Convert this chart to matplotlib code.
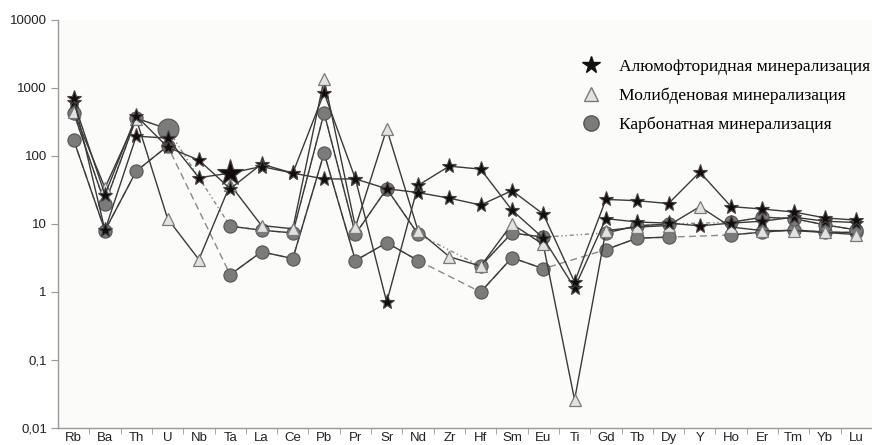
import numpy as np
import matplotlib.pyplot as plt
from matplotlib.lines import Line2D

elements = ['Rb', 'Ba', 'Th', 'U', 'Nb', 'Ta', 'La', 'Ce', 'Pb', 'Pr', 'Sr', 'Nd', 'Zr',
            'Hf', 'Sm', 'Eu', 'Ti', 'Gd', 'Tb', 'Dy', 'Y', 'Ho', 'Er', 'Tm', 'Yb', 'Lu']
nan = np.nan

# alumofluoride mineralization (stars)
star_1 = [710, 8.1, 196, 183, 48, 56, 70, 56, 46, 46, 33, 29, 24,
          19, 31, 14, 1.4, 23, 22, 20, 58, 18, 16.6, 15, 12.3, 11.4]
star_2 = [630, 27, 390, 135, 87, 33, 76, 56, 850, 46, 0.71, 37, 71,
          64, 16, 6.2, 1.15, 12, 10.7, 10.3, 9.4, 10.3, 11, 12.6, 11, 10.5]
# molybdenum mineralization (triangles)
tri_1 = [450, 34, 350, 12, 3.0, 38, 9.5, 8.5, 1350, 9, 250, 8, 3.3,
         2.4, 10, 5.0, 0.026, 8, 9, 9.5, 18, 9, 8, 8, 7.5, 7]
# carbonate mineralization (circles), nan = not analysed
circ_1 = [430, 20, 360, 250, nan, 9.3, 8.1, 7.4, 430, 7.1, 33, 7.1, nan,
          2.4, 7.4, 6.4, nan, 7.4, 9.4, 10, nan, 10.6, 12.6, 12, 9.7, 8.2]
circ_2 = [172, 8, 60, 140, nan, 1.8, 3.9, 3.1, 110, 2.9, 5.3, 2.9, nan,
          1.0, 3.2, 2.2, nan, 4.2, 6.2, 6.4, nan, 6.9, 7.6, 8.2, 7.6, 7.5]

y_ticks = [0.01, 0.1, 1, 10, 100, 1000, 10000]
y_labels = ['0,01', '0,1', '1', '10', '100', '1000', '10000']
legend_labels = ['Алюмофторидная минерализация', 'Молибденовая минерализация',
                 'Карбонатная минерализация']

line_col = '#3a3a3a'
star_kw = dict(marker='*', markersize=11, markerfacecolor='#150d0d', markeredgecolor='#444444',
               markeredgewidth=0.8)
tri_kw = dict(marker='^', markersize=9, markerfacecolor='#e2e2e2', markeredgecolor='#7a7a7a',
              markeredgewidth=0.9)
circ_kw = dict(marker='o', markersize=9.5, markerfacecolor='#7b7b7b', markeredgecolor='#555555',
               markeredgewidth=0.8)

fig = plt.figure(figsize=(8.72, 4.45), dpi=100)
ax = fig.add_axes([58 / 872, 17 / 445, 1 - 58 / 872, 408 / 445])
ax.set_facecolor('#fbfbfa')
x = np.arange(len(elements))


def draw(vals, kw, z, bridge=None):
    v = np.array(vals, dtype=float)
    ok = ~np.isnan(v)
    if bridge is not None:
        ax.plot(x[ok], v[ok], color='#8a8a8a', lw=1, ls=bridge, zorder=z - 0.5)
    ax.plot(x, v, color=line_col, lw=1, zorder=z, **kw)


draw(circ_2, circ_kw, 2, bridge=(0, (5, 3)))
draw(circ_1, circ_kw, 3, bridge=(0, (3, 2, 1, 2, 1, 2)))
draw(tri_1, tri_kw, 4)
draw(star_2, star_kw, 5)
draw(star_1, star_kw, 6)

# enlarged points
ax.plot(x[3], circ_1[3], zorder=3.2, **{**circ_kw, 'markersize': 15})
ax.plot(x[5], star_1[5], zorder=6.2, **{**star_kw, 'markersize': 20})

ax.set_yscale('log')
ax.set_ylim(0.01, 10000)
ax.set_xlim(-0.5, len(elements) - 0.5)
ax.set_yticks(y_ticks)
ax.set_yticklabels(y_labels)
ax.minorticks_off()
ax.set_xticks(x)
ax.set_xticklabels(elements)
ax.set_xticks(x[:-1] + 0.5, minor=True)
ax.tick_params(axis='x', which='major', length=0, pad=3)
ax.tick_params(axis='x', which='minor', length=4, color='#999999', direction='out')
ax.tick_params(axis='y', which='major', length=5, color='#999999', direction='out', pad=3)
for lab in ax.get_xticklabels() + ax.get_yticklabels():
    lab.set_fontfamily('Liberation Sans')
    lab.set_fontsize(9.5)
    lab.set_color('#222222')

for s in ['top', 'right']:
    ax.spines[s].set_visible(False)
for s in ['left', 'bottom']:
    ax.spines[s].set_color('#999999')
    ax.spines[s].set_linewidth(1)

handles = [
    Line2D([], [], ls='none', marker='*', markersize=13, markerfacecolor='#111111',
           markeredgecolor='#111111'),
    Line2D([], [], ls='none', marker='^', markersize=10, markerfacecolor='#e2e2e2',
           markeredgecolor='#7a7a7a'),
    Line2D([], [], ls='none', marker='o', markersize=11, markerfacecolor='#7b7b7b',
           markeredgecolor='#555555'),
]
fig.legend(handles, legend_labels, loc='upper left', bbox_to_anchor=(558 / 872, 1 - 43 / 445),
           frameon=False, handletextpad=0.6, labelspacing=0.72,
           prop={'family': 'Liberation Serif', 'size': 12.6})

fig.savefig('out.png', dpi=100, facecolor='white')
